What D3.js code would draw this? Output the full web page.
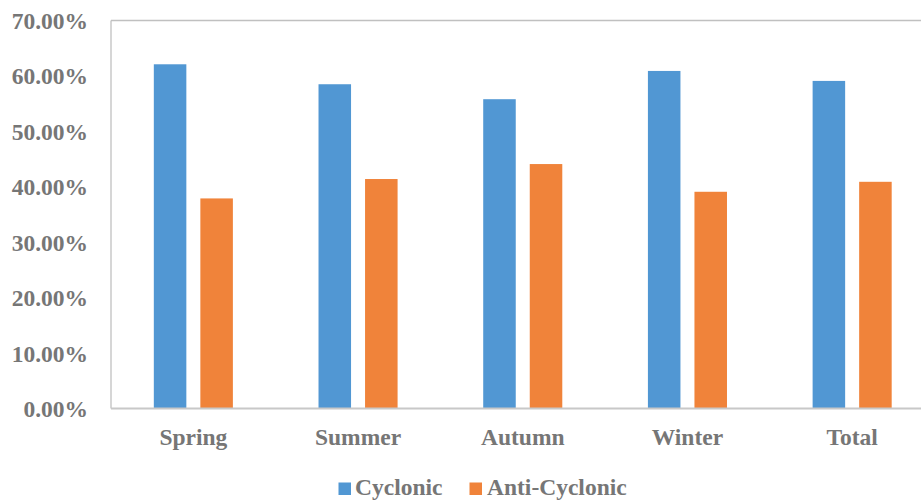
<!DOCTYPE html>
<html>
<head>
<meta charset="utf-8">
<script src="https://cdn.jsdelivr.net/npm/d3@7"></script>
<style>
  html, body { margin: 0; padding: 0; background: #ffffff; }
  svg { display: block; }
  text { font-family: "Liberation Serif", "Times New Roman", serif; font-weight: bold; fill: #767676; }
</style>
</head>
<body>
<svg id="chart" width="921" height="501"></svg>
<script>
const categories = ["Spring", "Summer", "Autumn", "Winter", "Total"];
const seriesNames = ["Cyclonic", "Anti-Cyclonic"];
const cyclonic = [0.621, 0.585, 0.558, 0.609, 0.591];
const antiCyclonic = [0.379, 0.414, 0.441, 0.391, 0.409];
const yTicks = [0, 0.1, 0.2, 0.3, 0.4, 0.5, 0.6, 0.7];
const colors = ["#5197d3", "#f0833a"];

const svg = d3.select("#chart");
const W = 921, H = 501;
const plot = { left: 111, right: 934.5, top: 20.5, bottom: 408.5 };

const x = d3.scaleBand().domain(categories).range([plot.left, plot.right]).paddingInner(0).paddingOuter(0);
const xs = d3.scaleBand().domain(seriesNames).range([0, x.bandwidth()]).paddingInner(0.301).paddingOuter(0.92);
const y = d3.scaleLinear().domain([0, 0.7]).range([plot.bottom, plot.top]);

const fmt = d => (d * 100).toFixed(2) + "%";

// frame
svg.append("line").attr("x1", plot.left).attr("x2", W).attr("y1", plot.top).attr("y2", plot.top)
  .attr("stroke", "#c0c0c0").attr("stroke-width", 1.3);
svg.append("line").attr("x1", plot.left).attr("x2", plot.left).attr("y1", plot.top).attr("y2", plot.bottom)
  .attr("stroke", "#c0c0c0").attr("stroke-width", 1.3);

// bars
const data = categories.map((c, i) => ({ cat: c, vals: [cyclonic[i], antiCyclonic[i]] }));
const g = svg.append("g");
data.forEach(d => {
  d.vals.forEach((v, j) => {
    g.append("rect")
      .attr("x", x(d.cat) + xs(seriesNames[j]))
      .attr("y", y(v))
      .attr("width", xs.bandwidth())
      .attr("height", y(0) - y(v))
      .attr("fill", colors[j]);
  });
});

// x axis baseline
svg.append("line").attr("x1", plot.left).attr("x2", W).attr("y1", plot.bottom).attr("y2", plot.bottom)
  .attr("stroke", "#c8c8c8").attr("stroke-width", 2);

// y axis labels
const yAxis = d3.axisLeft(y).tickValues(yTicks).tickFormat(fmt).tickSize(0).tickPadding(0);
const yg = svg.append("g").attr("transform", "translate(88,0)").call(yAxis);
yg.select(".domain").remove();
yg.selectAll("text").attr("font-size", "23.5px").attr("dy", "0.34em")
  .style("font-family", '"Liberation Serif", serif').style("font-weight", "bold").attr("fill", "#767676");

// x axis labels
const xAxis = d3.axisBottom(x).tickSize(0).tickPadding(0);
const xg = svg.append("g").attr("transform", "translate(0,445)").call(xAxis);
xg.select(".domain").remove();
xg.selectAll("text").attr("font-size", "23.5px").attr("dy", "0")
  .style("font-family", '"Liberation Serif", serif').style("font-weight", "bold").attr("fill", "#767676");

// legend
const legendItems = [{ name: seriesNames[0], sx: 338.5, tx: 355 }, { name: seriesNames[1], sx: 469.5, tx: 487 }];
legendItems.forEach((it, j) => {
  svg.append("rect").attr("x", it.sx).attr("y", 482.5).attr("width", 12.5).attr("height", 12.5).attr("fill", colors[j]);
  svg.append("text").attr("x", it.tx).attr("y", 495).attr("font-size", "23.5px").text(it.name);
});
</script>
</body>
</html>
